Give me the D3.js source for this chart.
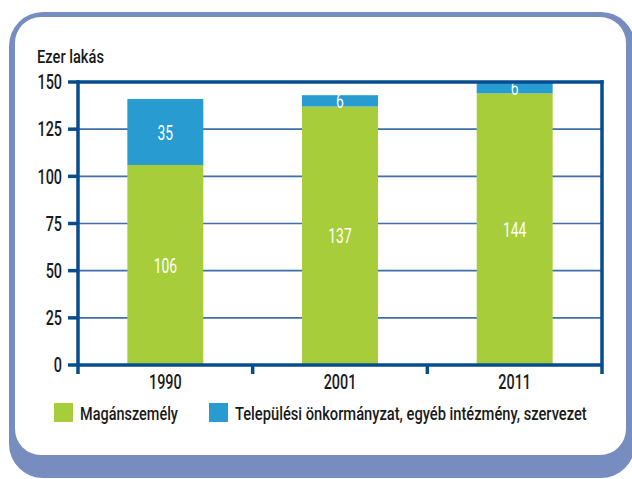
<!DOCTYPE html>
<html>
<head>
<meta charset="utf-8">
<script src="https://cdn.jsdelivr.net/npm/d3@7"></script>
<style>
  body { margin: 0; background: #fff; }
  svg { display: block; font-family: Roboto, "DejaVu Sans", sans-serif; }
</style>
</head>
<body>
<svg id="chart" width="632" height="479"></svg>
<script>
const years = ["1990", "2001", "2011"];
const privateOwners = [106, 137, 144];
const municipal = [35, 6, 6];
const yTicks = [0, 25, 50, 75, 100, 125, 150];
const seriesNames = ["Magánszemély", "Települési önkormányzat, egyéb intézmény, szervezet"];
const seriesColors = ["#a8cd3a", "#289bd0"];

const axisColor = "#064d8f";
const gridColor = "#3f6ea9";
const frameColor = "#778dbf";
const textColor = "#1a1a1a";

const svg = d3.select("svg#chart");

// the original uses a condensed face: each text sits in its own group,
// squeezed horizontally around its anchor point
const squeeze = (groups, factor) => {
    groups.each(function (d, i) {
        const g = d3.select(this);
        const t = g.attr("data-t");
        const f = typeof factor === "function" ? factor(this.querySelector("text"), i) : factor;
        g.attr("transform", `${t} scale(${f},1)`);
    });
};

// rounded frame
svg.append("rect")
    .attr("x", 9).attr("y", 12)
    .attr("width", 626).attr("height", 466)
    .attr("rx", 34).attr("ry", 34)
    .attr("fill", frameColor);
svg.append("rect")
    .attr("x", 15).attr("y", 17)
    .attr("width", 611).attr("height", 438)
    .attr("rx", 26).attr("ry", 26)
    .attr("fill", "#fff");

const plotLeft = 78, plotRight = 602, plotTop = 82, plotBottom = 365;

const x = d3.scaleBand()
    .domain(years)
    .range([plotLeft, plotRight])
    .paddingInner(0.565)
    .paddingOuter(0.2825);

const y = d3.scaleLinear()
    .domain([0, 150])
    .range([plotBottom, plotTop]);

// grid lines (behind bars)
svg.append("g").attr("class", "grid")
    .selectAll("line")
    .data(yTicks.filter(t => t > 0 && t < 150))
    .enter().append("line")
    .attr("x1", plotLeft).attr("x2", plotRight)
    .attr("y1", d => y(d)).attr("y2", d => y(d))
    .attr("stroke", gridColor)
    .attr("stroke-width", 1.6);

// stacked bars
const stackData = years.map((yr, i) => ({ year: yr, a: privateOwners[i], b: municipal[i] }));
const stacked = d3.stack().keys(["a", "b"])(stackData);

const layers = svg.append("g").attr("class", "bars")
    .selectAll("g")
    .data(stacked)
    .enter().append("g")
    .attr("fill", (d, i) => seriesColors[i]);

layers.selectAll("rect")
    .data(d => d)
    .enter().append("rect")
    .attr("x", d => x(d.data.year))
    .attr("width", x.bandwidth())
    .attr("y", d => y(d[1]))
    .attr("height", d => y(d[0]) - y(d[1]));

const barLabels = layers.selectAll("g.lbl")
    .data(d => d)
    .enter().append("g")
    .attr("class", "lbl")
    .attr("data-t", d => `translate(${x(d.data.year) + x.bandwidth() / 2},${(y(d[0]) + y(d[1])) / 2})`);
barLabels.append("text")
    .attr("dy", "0.36em")
    .attr("text-anchor", "middle")
    .attr("fill", "#fff")
    .attr("font-size", 21)
    .text(d => d[1] - d[0]);
squeeze(barLabels, 0.66);

// axes frame
const axes = svg.append("g").attr("class", "axes")
    .attr("stroke", axisColor)
    .attr("stroke-width", 3.5)
    .attr("fill", "none");

axes.append("line").attr("x1", plotLeft).attr("x2", plotRight + 1.75).attr("y1", plotTop).attr("y2", plotTop);
axes.append("line").attr("x1", plotLeft).attr("x2", plotRight).attr("y1", plotBottom).attr("y2", plotBottom);
axes.append("line").attr("x1", plotLeft).attr("x2", plotLeft).attr("y1", plotTop - 1.75).attr("y2", plotBottom + 9);
axes.append("line").attr("x1", plotRight).attr("x2", plotRight).attr("y1", plotTop - 1.75).attr("y2", plotBottom + 9);

// y ticks
axes.selectAll(".ytick")
    .data(yTicks)
    .enter().append("line")
    .attr("class", "ytick")
    .attr("x1", plotLeft - 10).attr("x2", plotLeft)
    .attr("y1", d => y(d)).attr("y2", d => y(d));

// x ticks on band boundaries
const boundaries = d3.range(years.length + 1).map(i => plotLeft + i * x.step());
axes.selectAll(".xtick")
    .data(boundaries.slice(1, -1))
    .enter().append("line")
    .attr("class", "xtick")
    .attr("x1", d => d).attr("x2", d => d)
    .attr("y1", plotBottom).attr("y2", plotBottom + 9);

// y tick labels
const yLabels = svg.append("g").selectAll("g")
    .data(yTicks)
    .enter().append("g")
    .attr("data-t", d => `translate(62,${y(d)})`);
yLabels.append("text")
    .attr("dy", "0.36em")
    .attr("text-anchor", "end")
    .attr("font-size", 20)
    .attr("font-weight", 500)
    .attr("fill", textColor)
    .text(d => d);
squeeze(yLabels, 0.72);

// x labels
const xLabels = svg.append("g").selectAll("g")
    .data(years)
    .enter().append("g")
    .attr("data-t", d => `translate(${x(d) + x.bandwidth() / 2},382)`);
xLabels.append("text")
    .attr("dy", "0.36em")
    .attr("text-anchor", "middle")
    .attr("font-size", 20)
    .attr("font-weight", 500)
    .attr("fill", textColor)
    .text(d => d);
squeeze(xLabels, 0.72);

// axis title
const title = svg.append("g").attr("data-t", "translate(37,63)");
title.append("text")
    .attr("font-size", 19)
    .attr("font-weight", 500)
    .attr("fill", textColor)
    .text("Ezer lakás");
squeeze(title, t => 67 / t.getComputedTextLength());

// legend
const legendX = [54, 209];
const legendTextWidth = [98, 352];
const legend = svg.append("g").selectAll("g")
    .data(seriesNames)
    .enter().append("g")
    .attr("transform", (d, i) => `translate(${legendX[i]}, 403)`);
legend.append("rect")
    .attr("width", 19).attr("height", 19)
    .attr("fill", (d, i) => seriesColors[i]);
const legendLabels = legend.append("g")
    .attr("data-t", "translate(26,10)");
legendLabels.append("text")
    .attr("dy", "0.36em")
    .attr("font-size", 19)
    .attr("font-weight", 500)
    .attr("fill", textColor)
    .text(d => d);
squeeze(legendLabels, (t, i) => legendTextWidth[i] / t.getComputedTextLength());
</script>
</body>
</html>
